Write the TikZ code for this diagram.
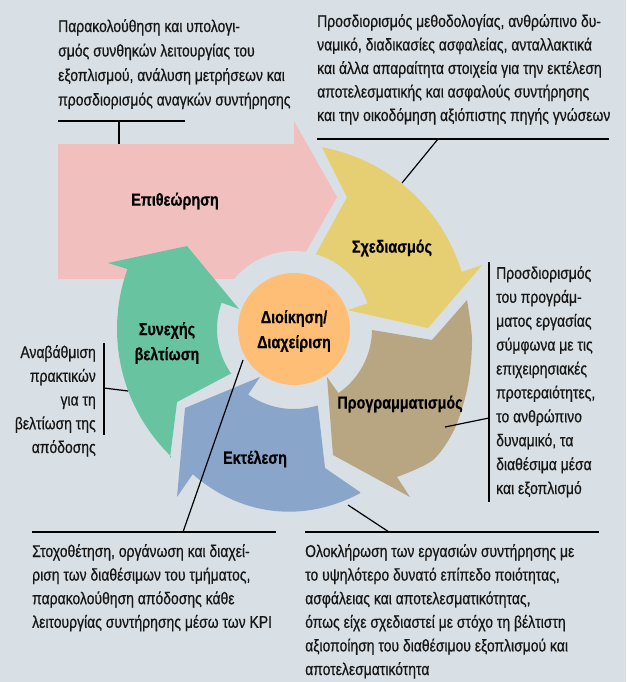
\documentclass[tikz,border=0pt]{standalone}
\usepackage{fontspec}
\setmainfont{Liberation Sans}[FakeStretch=0.82, UprightFeatures={FakeBold=0.6}, BoldFeatures={FakeBold=0.5}]
\usetikzlibrary{calc}
\definecolor{bg}{HTML}{D8E0E6}
\definecolor{pinkc}{HTML}{F2BFBF}
\definecolor{yellowc}{HTML}{E6CF72}
\definecolor{brownc}{HTML}{B8A682}
\definecolor{bluec}{HTML}{89A6CA}
\definecolor{greenc}{HTML}{68C4A0}
\definecolor{orangec}{HTML}{FEBE76}
\definecolor{ink}{HTML}{161616}
\begin{document}
\begin{tikzpicture}[x=1pt,y=-1pt,
  desc/.style={inner sep=0pt, align=left, font=\fontsize{17}{23.6}\selectfont, text=ink},
  lbl/.style={inner sep=0pt, align=center, font=\fontsize{17.5}{25}\selectfont\bfseries, text=black},
  conn/.style={line width=1.2pt, black}]
\fill[bg] (0,0) rectangle (626,682);
\useasboundingbox (0,0) rectangle (626,682);
\coordinate (C) at (294,329);
% Inspection (pink)
\fill[pinkc] (58,144) -- (294,144) -- (294,121) -- (337,197) -- (294,273) -- (294,279) -- (58,279) -- cycle;
\fill[bg] (C) circle[radius=78];
% Planning (yellow)
\fill[yellowc] ($(C)+(-81.3:184)$)
  -- plot[domain=-81.3:-18.8,samples=40] ({294+(184-0.112*(\x+81.3))*cos(\x)},{329+(184-0.112*(\x+81.3))*sin(\x)})
  -- ($(C)+(-18.8:199)$) -- ($(C)+(-0.4:134)$) -- ($(C)+(-19.4:57)$) -- ($(C)+(-19.2:78)$)
  -- plot[domain=-19.2:-73.8,samples=40] ({294+78*cos(\x)},{329+78*sin(\x)})
  -- ($(C)+(-68.1:142)$) -- cycle;
% Scheduling (brown)
\fill[brownc] (467,300)
  -- plot[smooth] coordinates {(467,300) (472,340) (468,385) (455,428) (433,460) (397,477)}
  -- (410,497) -- (333,455) -- (327,377) -- ($(C)+(55.3:78)$)
  -- plot[domain=55.3:0.7,samples=40] ({294+78*cos(\x)},{329+78*sin(\x)})
  -- (432,340) -- cycle;
% Execution (blue)
\fill[bluec] (318,407) -- (325,468) -- (360,492)
  -- plot[domain=68:124.9,samples=40] ({294+(177+6*sin((\x-68)*3.16))*cos(\x)},{329+(177+6*sin((\x-68)*3.16))*sin(\x)})
  -- (177,497) -- (185,408) -- (260,377) -- ($(C)+(125:80)$)
  -- plot[domain=125:72.9,samples=40] ({294+80*cos(\x)},{329+80*sin(\x)})
  -- cycle;
% Continuous improvement (green)
\fill[greenc] (170,458) -- (177,402) -- (232,373)
  -- plot[domain=144.6:200,samples=40] ({294+77*cos(\x)},{329+77*sin(\x)})
  -- (239,309) -- (187,246) -- (108,263) -- ($(C)+(199.8:177)$)
  -- plot[domain=199.8:133.9,samples=40] ({294+177*cos(\x)},{329+177*sin(\x)})
  -- cycle;
% centre
\fill[orangec] (C) circle[radius=56];
\node[lbl] (mgmt) at (294,331) {Διοίκηση/\\Διαχείριση};
\node[lbl] (insp) at (175,201) {Επιθεώρηση};
\node[lbl] (plan) at (392,248) {Σχεδιασμός};
\node[lbl] (sched) at (400,404) {Προγραμματισμός};
\node[lbl] (exec) at (255,459) {Εκτέλεση};
\node[lbl] (impr) at (167,343) {Συνεχής\\βελτίωση};
% descriptions (anchor = baseline of the last line)
\node[desc, anchor=base west, font=\fontsize{17}{24.5}\selectfont] (t1) at (58,105.5) {Παρακολούθηση και υπολογι-\\σμός συνθηκών λειτουργίας του\\εξοπλισμού, ανάλυση μετρήσεων και\\προσδιορισμός αναγκών συντήρησης};
\node[desc, anchor=base west, font=\fontsize{17}{23.5}\selectfont] (t2) at (317,121) {Προσδιορισμός μεθοδολογίας, ανθρώπινο δυ-\\ναμικό, διαδικασίες ασφαλείας, ανταλλακτικά\\και άλλα απαραίτητα στοιχεία για την εκτέλεση\\αποτελεσματικής και ασφαλούς συντήρησης\\και την οικοδόμηση αξιόπιστης πηγής γνώσεων};
\node[desc, anchor=base west, font=\fontsize{17}{23.9}\selectfont] (t3) at (496,494) {Προσδιορισμός\\του προγράμ-\\ματος εργασίας\\σύμφωνα με τις\\επιχειρησιακές\\προτεραιότητες,\\το ανθρώπινο\\δυναμικό, τα\\διαθέσιμα μέσα\\και εξοπλισμό};
\node[desc, anchor=base east, align=right, font=\fontsize{17}{23.75}\selectfont] (t4) at (96,453) {Αναβάθμιση\\πρακτικών\\για τη\\βελτίωση της\\απόδοσης};
\node[desc, anchor=base west] (t5) at (32,627.8) {Στοχοθέτηση, οργάνωση και διαχεί-\\ριση των διαθέσιμων του τμήματος,\\παρακολούθηση απόδοσης κάθε\\λειτουργίας συντήρησης μέσω των KPI};
\node[desc, anchor=base west] (t6) at (305,675) {Ολοκλήρωση των εργασιών συντήρησης με\\το υψηλότερο δυνατό επίπεδο ποιότητας,\\ασφάλειας και αποτελεσματικότητας,\\όπως είχε σχεδιαστεί με στόχο τη βέλτιστη\\αξιοποίηση του διαθέσιμου εξοπλισμού και\\αποτελεσματικότητα};
% connectors
\coordinate (a1) at (58,121); \coordinate (a2) at (185,121);
\coordinate (a3) at (119,121); \coordinate (a4) at (119,144);
\draw[conn] (a1) -- (a2); \draw[conn] (a3) -- (a4);
\coordinate (b1) at (317,139); \coordinate (b2) at (609,139);
\coordinate (b3) at (438,139); \coordinate (b4) at (402,183);
\draw[conn] (b1) -- (b2); \draw[conn] (b3) -- (b4);
\coordinate (c1) at (489,262); \coordinate (c2) at (489,502);
\coordinate (c3) at (489,418); \coordinate (c4) at (445,427);
\draw[conn] (c1) -- (c2); \draw[conn] (c3) -- (c4);
\coordinate (d1) at (104,343); \coordinate (d2) at (104,435);
\coordinate (d3) at (104,388); \coordinate (d4) at (128,391);
\draw[conn] (d1) -- (d2); \draw[conn] (d3) -- (d4);
\coordinate (e1) at (32,532); \coordinate (e2) at (276,532);
\coordinate (e3) at (183,532); \coordinate (e4) at (243,360);
\draw[conn] (e1) -- (e2); \draw[conn] (e3) -- (e4);
\coordinate (f1) at (305,532); \coordinate (f2) at (599,532);
\coordinate (f3) at (389,532); \coordinate (f4) at (348,505);
\draw[conn] (f1) -- (f2); \draw[conn] (f3) -- (f4);
\end{tikzpicture}
\end{document}
